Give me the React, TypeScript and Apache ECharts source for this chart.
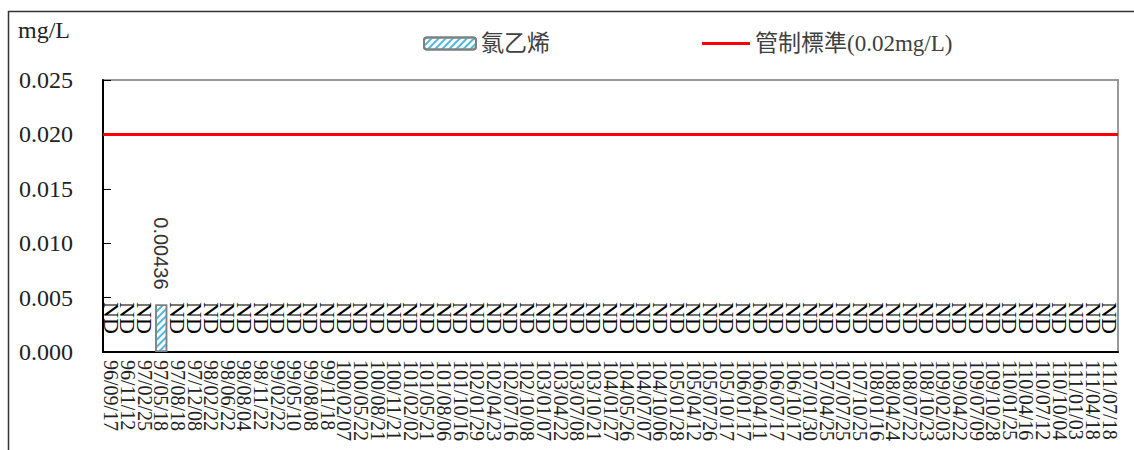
import React, { useEffect, useRef } from "react";
import * as echarts from "echarts";

const categories: string[] = [
  "96/09/17", "96/11/12", "97/02/25", "97/05/18", "97/08/18", "97/12/08", "98/02/22", "98/06/22",
  "98/08/04", "98/11/22", "99/02/22", "99/05/10", "99/08/08", "99/11/18", "100/02/07", "100/05/22",
  "100/08/21", "100/11/21", "101/02/02", "101/05/21", "101/08/06", "101/10/16", "102/01/29", "102/04/23",
  "102/07/16", "102/10/08", "103/01/07", "103/04/22", "103/07/08", "103/10/21", "104/01/27", "104/05/26",
  "104/07/07", "104/10/06", "105/01/28", "105/04/12", "105/07/26", "105/10/17", "106/01/17", "106/04/11",
  "106/07/17", "106/10/17", "107/01/30", "107/04/25", "107/07/25", "107/10/25", "108/01/16", "108/04/24",
  "108/07/22", "108/10/23", "109/02/03", "109/04/22", "109/07/09", "109/10/28", "110/01/25", "110/04/16",
  "110/07/12", "110/10/04", "111/01/03", "111/04/18", "111/07/18",
];

// "ND" = not detected
const vinylChloride: (number | string)[] = [
  "ND", "ND", "ND", 0.00436, "ND", "ND", "ND", "ND",
  "ND", "ND", "ND", "ND", "ND", "ND", "ND", "ND",
  "ND", "ND", "ND", "ND", "ND", "ND", "ND", "ND",
  "ND", "ND", "ND", "ND", "ND", "ND", "ND", "ND",
  "ND", "ND", "ND", "ND", "ND", "ND", "ND", "ND",
  "ND", "ND", "ND", "ND", "ND", "ND", "ND", "ND",
  "ND", "ND", "ND", "ND", "ND", "ND", "ND", "ND",
  "ND", "ND", "ND", "ND", "ND",
];

const LIMIT = 0.02;
const limitValues: number[] = categories.map(() => LIMIT);

const yTicks = { min: 0, max: 0.025, interval: 0.005 };

const SERIES_BAR = "氯乙烯";
const SERIES_LINE = "管制標準(0.02mg/L)";
const UNIT = "mg/L";

const SERIF = "'Liberation Serif', 'Times New Roman', 'Noto Sans CJK TC', serif";

export default function App() {
  const ref = useRef<HTMLDivElement>(null);

  useEffect(() => {
    if (!ref.current) return;
    const chart = echarts.init(ref.current, undefined, { renderer: "svg" });

    const barData = vinylChloride.map((v) => {
      if (v === "ND") {
        return {
          value: 0,
          itemStyle: { borderWidth: 0 },
          label: {
            show: true,
            formatter: "ND",
            position: ["50%", -34],
            rotate: -90,
            align: "center",
            verticalAlign: "middle",
            fontFamily: SERIF,
            fontSize: 22,
            color: "#000",
          },
        };
      }
      return {
        value: v as number,
        label: {
          show: true,
          formatter: String(v),
          position: "top",
          distance: 15,
          rotate: -90,
          align: "right",
          verticalAlign: "middle",
          fontFamily: "'Liberation Sans', Arial, sans-serif",
          fontSize: 20,
          color: "#333",
        },
      };
    });

    const decal = {
      symbol: "rect",
      symbolSize: 1,
      color: "#4fb8dc",
      dashArrayX: [1, 0],
      dashArrayY: [2, 3],
      rotation: -Math.PI / 4,
    };

    chart.setOption({
      animation: false,
      backgroundColor: "#fff",
      grid: {
        left: 103,
        right: 16,
        top: 80,
        bottom: 98,
        show: true,
        borderColor: "#999",
        borderWidth: 2,
      },
      legend: [
        {
          data: [SERIES_BAR],
          left: 418,
          top: 27,
          itemWidth: 52,
          itemHeight: 12,
          itemGap: 8,
          textStyle: { fontSize: 23, color: "#404040", fontFamily: SERIF },
        },
        {
          data: [{ name: SERIES_LINE, icon: "rect" }],
          left: 697,
          top: 27,
          itemWidth: 48,
          itemHeight: 3,
          textStyle: { fontSize: 23, color: "#404040", fontFamily: SERIF },
        },
      ],
      graphic: [
        {
          type: "rect",
          left: 6,
          top: 9,
          shape: { width: 1300, height: 600 },
          style: { fill: "none", stroke: "#333", lineWidth: 1.5 },
          silent: true,
        },
        {
          type: "text",
          left: 18,
          top: 18,
          style: { text: UNIT, fontSize: 24, fontFamily: SERIF, fill: "#222" },
        },
      ],
      xAxis: [
        {
          type: "category",
          data: categories,
          axisLine: { lineStyle: { color: "#000", width: 2 } },
          axisTick: { inside: true, length: 7, lineStyle: { color: "#000" } },
          axisLabel: {
            rotate: -90,
            interval: 0,
            margin: 8,
            fontSize: 20,
            fontFamily: SERIF,
            color: "#222",
          },
        },
        {
          type: "category",
          data: categories,
          boundaryGap: false,
          show: false,
        },
      ],
      yAxis: {
        type: "value",
        min: yTicks.min,
        max: yTicks.max,
        interval: yTicks.interval,
        axisLine: { show: true, lineStyle: { color: "#000", width: 2 } },
        axisTick: { show: true, inside: true, length: 8, lineStyle: { color: "#000" } },
        splitLine: { show: false },
        axisLabel: {
          formatter: (v: number) => v.toFixed(3),
          fontSize: 24,
          fontFamily: SERIF,
          color: "#222",
          margin: 30,
        },
      },
      series: [
        {
          name: SERIES_BAR,
          type: "bar",
          xAxisIndex: 0,
          barWidth: 12,
          data: barData,
          itemStyle: {
            color: "#ffffff",
            borderColor: "#7f7f7f",
            borderWidth: 1.5,
            decal,
          },
        },
        {
          name: SERIES_LINE,
          type: "line",
          xAxisIndex: 1,
          data: limitValues,
          symbol: "none",
          lineStyle: { color: "#ff0000", width: 3 },
          itemStyle: { color: "#ff0000" },
        },
      ],
    });

    return () => chart.dispose();
  }, []);

  return (
    <div
      ref={ref}
      style={{ position: "absolute", left: 0, top: 0, width: 1134, height: 450 }}
    />
  );
}
